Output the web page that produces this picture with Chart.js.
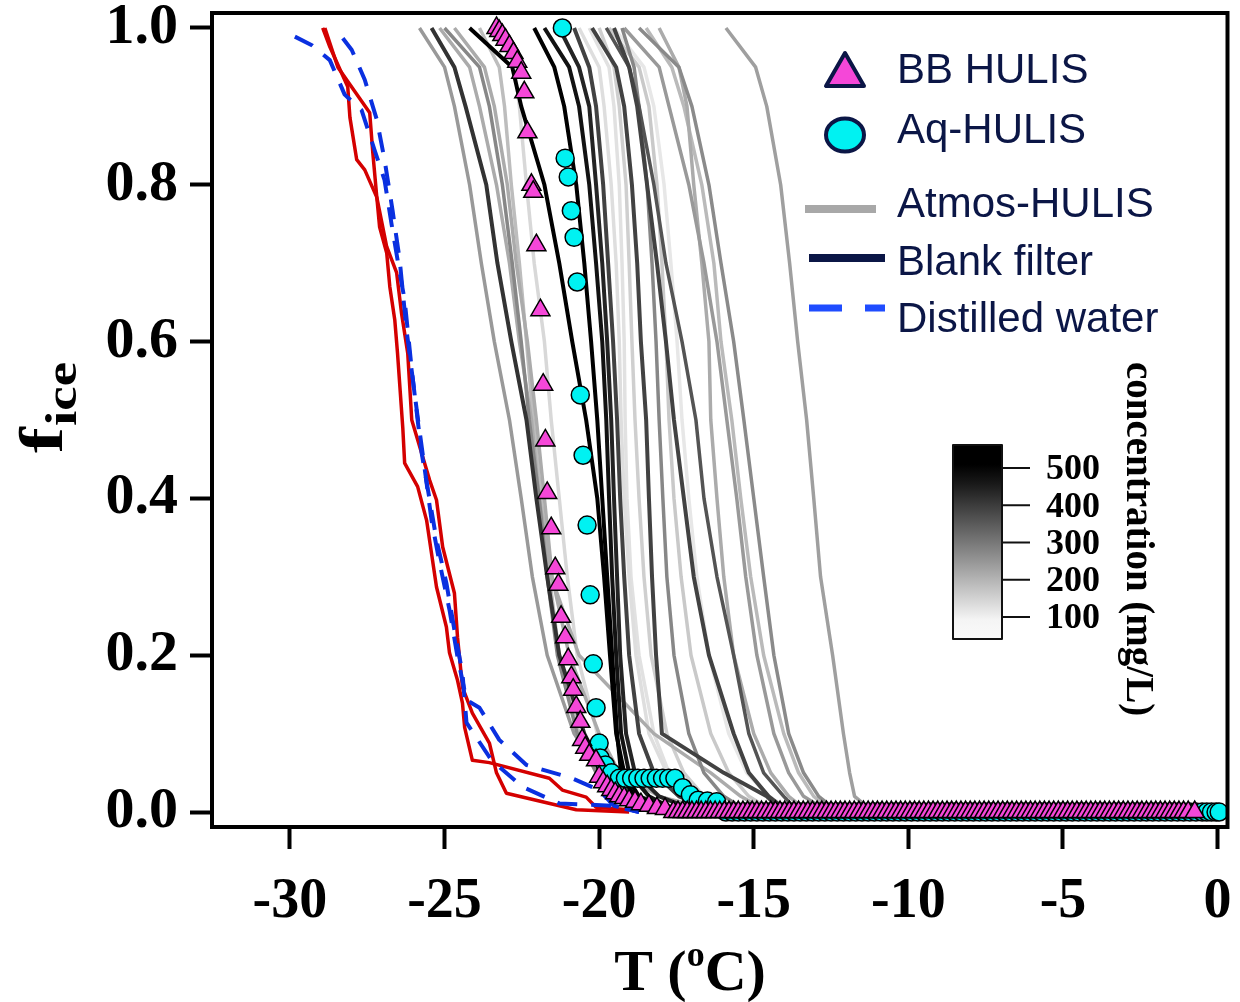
<!DOCTYPE html>
<html>
<head>
<meta charset="utf-8">
<title>fice vs T</title>
<script src="https://cdn.jsdelivr.net/npm/chart.js@4.4.1/dist/chart.umd.min.js"></script>
<style>
  html, body { margin: 0; padding: 0; background: #fff; }
  canvas { display: block; }
</style>
</head>
<body>
<canvas id="fice" width="1240" height="1002"></canvas>
<script>
// axis ticks
var xTicks = [-30, -25, -20, -15, -10, -5, 0];
var yTicks = [0, 0.2, 0.4, 0.6, 0.8, 1.0];
var concTicks = [100, 200, 300, 400, 500];

// frozen fraction levels shared by every Atmos-HULIS / blank run
var fLevels = [1.0, 0.95, 0.9, 0.8, 0.7, 0.6, 0.5, 0.4, 0.3, 0.2, 0.1, 0.05, 0.02, 0];

// temperature (C) of each run at the fLevels above
var atmosRuns = [
    [-25.81, -25.0, -24.68, -24.19, -23.81, -23.39, -22.90, -22.52, -22.16, -21.68, -20.81, -20.0, -18.71, -17.10],
    [-25.42, -24.68, -24.32, -23.65, -23.29, -22.84, -22.35, -22.03, -21.68, -21.29, -20.48, -19.84, -18.71, -17.42],
    [-25.16, -24.19, -23.87, -23.32, -22.90, -22.58, -22.19, -21.94, -21.55, -20.65, -18.23, -16.39, -15.42, -14.52],
    [-24.68, -23.71, -23.39, -22.97, -22.68, -22.32, -22.03, -21.77, -21.52, -20.97, -20.0, -19.35, -18.06, -16.13],
    [-23.87, -23.23, -23.06, -22.84, -22.58, -22.35, -22.13, -21.87, -21.61, -21.29, -20.65, -20.06, -19.19, -18.06],
    [-23.23, -22.74, -22.58, -22.35, -22.10, -21.77, -21.55, -21.29, -21.03, -20.71, -20.06, -19.52, -18.71, -17.42],
    [-25.0, -23.87, -23.55, -23.13, -22.81, -22.52, -22.26, -21.94, -21.68, -21.35, -20.71, -20.10, -19.29, -18.39],
    [-24.19, -22.81, -22.52, -21.77, -21.29, -20.87, -20.42, -20.06, -19.84, -19.65, -19.45, -19.19, -18.71, -17.74],
    [-22.10, -21.45, -21.13, -20.74, -20.48, -20.26, -20.06, -19.90, -19.74, -19.58, -19.42, -19.29, -18.87, -18.06],
    [-21.77, -20.97, -20.65, -20.32, -20.10, -19.90, -19.77, -19.68, -19.58, -19.45, -19.29, -19.03, -18.39, -17.42],
    [-21.29, -20.65, -20.32, -20.10, -19.90, -19.74, -19.61, -19.52, -19.42, -19.32, -19.13, -18.84, -18.06, -16.77],
    [-20.81, -20.32, -20.10, -19.87, -19.71, -19.55, -19.42, -19.32, -19.19, -19.03, -18.71, -18.23, -17.42, -16.13],
    [-20.23, -19.45, -19.19, -18.94, -18.77, -18.65, -18.48, -18.39, -18.29, -18.16, -17.97, -15.97, -14.58, -14.03],
    [-19.77, -19.03, -18.71, -18.23, -17.84, -17.32, -16.87, -16.61, -16.19, -15.65, -15.16, -14.68, -14.03, -13.55],
    [-19.52, -19.03, -18.77, -18.45, -18.13, -17.84, -17.58, -17.26, -16.94, -16.45, -15.65, -15.16, -14.52, -13.87],
    [-20.32, -19.68, -19.52, -19.35, -19.26, -19.19, -19.16, -19.10, -18.97, -18.71, -18.23, -17.74, -17.10, -16.13],
    [-20.0, -19.52, -19.35, -19.13, -19.03, -18.94, -18.84, -18.71, -18.55, -18.32, -17.81, -17.26, -16.61, -15.81],
    [-19.26, -18.87, -18.71, -18.45, -18.29, -18.16, -18.06, -17.94, -17.81, -17.58, -17.10, -16.61, -15.97, -15.16],
    [-19.68, -18.71, -18.39, -18.13, -17.97, -17.84, -17.74, -17.58, -17.35, -17.03, -16.39, -15.81, -15.16, -14.35],
    [-18.48, -17.65, -17.26, -16.68, -16.29, -16.06, -15.71, -15.42, -15.10, -14.68, -14.03, -13.55, -13.06, -12.42],
    [-19.19, -18.06, -17.74, -17.10, -16.61, -16.19, -15.87, -15.55, -15.26, -14.90, -14.35, -13.87, -13.39, -12.58],
    [-18.06, -17.42, -17.16, -16.94, -16.68, -16.45, -16.39, -16.19, -15.97, -15.65, -15.0, -14.45, -13.87, -13.23],
    [-20.65, -20.0, -19.84, -19.61, -19.45, -19.35, -19.29, -19.19, -19.03, -18.81, -18.39, -17.81, -17.10, -16.45],
    [-19.52, -18.55, -18.23, -17.90, -17.68, -17.48, -17.32, -17.10, -16.84, -16.45, -15.81, -15.23, -14.52, -13.71],
    [-18.71, -17.42, -17.0, -16.45, -16.06, -15.65, -15.32, -15.0, -14.68, -14.35, -13.87, -13.39, -12.90, -12.26],
    [-15.90, -14.94, -14.58, -14.13, -13.84, -13.58, -13.29, -13.06, -12.84, -12.45, -12.10, -11.90, -11.74, -11.13]
];
// concentration (mg/L) of each run, sets its grey shade
var atmosConc = [245, 415, 215, 215, 185, 140, 275, 500, 500, 470, 440, 390, 390, 360, 390,
                 125, 155, 275, 165, 190, 245, 215, 130, 115, 270, 235];

// pure water reference runs [T, fice]
var redA = [[-28.94, 1.0], [-28.71, 0.976], [-28.13, 0.925], [-28.06, 0.886], [-27.84, 0.832], [-27.58, 0.819],
            [-27.19, 0.784], [-27.10, 0.746], [-26.87, 0.713], [-26.77, 0.670], [-26.61, 0.628], [-26.52, 0.585],
            [-26.35, 0.49], [-26.29, 0.445], [-25.87, 0.415], [-25.58, 0.372], [-25.26, 0.287], [-24.94, 0.236],
            [-24.84, 0.203], [-24.58, 0.168], [-24.42, 0.139], [-24.35, 0.108], [-24.10, 0.066], [-23.55, 0.063],
            [-21.61, 0.043], [-21.19, 0.028], [-20.42, 0.019], [-20.10, 0.006], [-19.03, 0.003]];
var redB = [[-28.87, 1.0], [-28.45, 0.950], [-27.42, 0.892], [-27.32, 0.841], [-27.19, 0.784], [-26.87, 0.721],
            [-26.55, 0.688], [-26.39, 0.636], [-26.19, 0.585], [-26.06, 0.50], [-25.48, 0.423], [-25.26, 0.398],
            [-25.06, 0.338], [-24.68, 0.279], [-24.58, 0.223], [-24.42, 0.159], [-24.10, 0.126], [-23.55, 0.088],
            [-23.32, 0.050], [-23.00, 0.024], [-20.74, 0.003], [-19.03, 0.0]];

// distilled water runs
var waterA = [[-29.84, 0.989], [-29.29, 0.978], [-28.71, 0.959], [-28.23, 0.915], [-27.68, 0.895], [-27.26, 0.844],
              [-26.94, 0.806], [-26.71, 0.749], [-26.45, 0.688], [-26.29, 0.653], [-26.06, 0.564], [-25.87, 0.50],
              [-25.74, 0.458], [-25.48, 0.398], [-25.26, 0.347], [-24.94, 0.292], [-24.68, 0.232], [-24.42, 0.177],
              [-24.29, 0.114], [-23.48, 0.066], [-22.48, 0.032], [-21.29, 0.011], [-19.58, 0.008], [-18.71, 0]];
var waterB = [[-28.29, 0.987], [-28.0, 0.972], [-27.58, 0.934], [-27.19, 0.883], [-26.94, 0.832], [-26.68, 0.767],
              [-26.45, 0.704], [-26.23, 0.615], [-25.90, 0.513], [-25.65, 0.440], [-25.42, 0.372], [-25.16, 0.318],
              [-24.84, 0.258], [-24.58, 0.198], [-24.29, 0.143], [-23.87, 0.133], [-23.23, 0.092], [-22.35, 0.060],
              [-20.87, 0.043], [-20.0, 0.028], [-19.52, 0.008], [-18.71, 0]];

// BB HULIS droplets
var bbHulis = [[-23.32, 1.0], [-23.23, 0.996], [-23.13, 0.991], [-23.03, 0.985], [-22.90, 0.977], [-22.77, 0.968],
               [-22.65, 0.957], [-22.52, 0.943], [-22.42, 0.918], [-22.32, 0.867], [-22.19, 0.800], [-22.13, 0.791],
               [-22.03, 0.723], [-21.90, 0.640], [-21.81, 0.545], [-21.74, 0.474], [-21.68, 0.407], [-21.55, 0.362],
               [-21.42, 0.311], [-21.32, 0.290], [-21.23, 0.249], [-21.10, 0.223], [-21.0, 0.195], [-20.90, 0.172],
               [-20.84, 0.156], [-20.74, 0.134], [-20.61, 0.115], [-20.55, 0.092], [-20.45, 0.082], [-20.32, 0.073],
               [-20.10, 0.066], [-20.0, 0.045], [-19.87, 0.038], [-19.74, 0.033], [-19.61, 0.028], [-19.48, 0.024],
               [-19.35, 0.020], [-19.19, 0.018], [-19.03, 0.015], [-18.84, 0.013], [-18.65, 0.010], [-18.39, 0.008],
               [-18.13, 0.005], [-17.87, 0.004]];
// BB HULIS temperatures still unfrozen (fice = 0)
var bbZero = [-17.6, -17.45, -17.3, -17.15, -17.0, -16.85, -16.7, -16.55, -16.4, -16.25, -16.1, -15.95, -15.8,
              -15.65, -15.5, -15.35, -15.2, -15.05, -14.9, -14.75, -14.6, -14.45, -14.3, -14.15, -14.0, -13.85,
              -13.7, -13.55, -13.4, -13.25, -13.1, -12.95, -12.8, -12.65, -12.5, -12.35, -12.2, -12.05, -11.9,
              -11.75, -11.6, -11.45, -11.3, -11.15, -11.0, -10.85, -10.7, -10.55, -10.4, -10.25, -10.1, -9.95,
              -9.8, -9.65, -9.5, -9.35, -9.2, -9.05, -8.9, -8.75, -8.6, -8.45, -8.3, -8.15, -8.0, -7.85, -7.7,
              -7.55, -7.4, -7.25, -7.1, -6.95, -6.8, -6.65, -6.5, -6.35, -6.2, -6.05, -5.9, -5.75, -5.6, -5.45,
              -5.3, -5.15, -5.0, -4.85, -4.7, -4.55, -4.4, -4.25, -4.1, -3.95, -3.8, -3.65, -3.5, -3.35, -3.2,
              -3.05, -2.9, -2.75, -2.6, -2.45, -2.3, -2.15, -2.0, -1.85, -1.7, -1.55, -1.4, -1.25, -1.1, -0.95,
              -0.74];

// Aq-HULIS droplets
var aqHulis = [[-21.19, 1.0], [-21.10, 0.834], [-21.0, 0.81], [-20.90, 0.767], [-20.81, 0.733], [-20.71, 0.676],
               [-20.61, 0.532], [-20.52, 0.455], [-20.39, 0.366], [-20.29, 0.277], [-20.19, 0.189], [-20.10, 0.133],
               [-20.0, 0.088], [-19.97, 0.069], [-19.8, 0.06], [-19.6, 0.05], [-19.35, 0.043], [-19.15, 0.043],
               [-18.95, 0.043], [-18.75, 0.043], [-18.55, 0.043], [-18.35, 0.043], [-18.15, 0.043], [-17.95, 0.043],
               [-17.75, 0.043], [-17.55, 0.043], [-17.3, 0.031], [-17.05, 0.022], [-16.8, 0.015], [-16.5, 0.014],
               [-16.2, 0.013]];
var aqZero = [-15.9, -15.7, -15.5, -15.3, -15.1, -14.9, -14.7, -14.5, -14.3, -14.1, -13.9, -13.7, -13.5, -13.3,
              -13.1, -12.9, -12.7, -12.5, -12.3, -12.1, -11.9, -11.7, -11.5, -11.3, -11.1, -10.9, -10.7, -10.5,
              -10.3, -10.1, -9.9, -9.7, -9.5, -9.3, -9.1, -8.9, -8.7, -8.5, -8.3, -8.1, -7.9, -7.7, -7.5, -7.3,
              -7.1, -6.9, -6.7, -6.5, -6.3, -6.1, -5.9, -5.7, -5.5, -5.3, -5.1, -4.9, -4.7, -4.5, -4.3, -4.1,
              -3.9, -3.7, -3.5, -3.3, -3.1, -2.9, -2.7, -2.5, -2.3, -2.1, -1.9, -1.7, -1.5, -1.3, -1.1, -0.9,
              -0.7, -0.5, -0.35, -0.2, -0.05, 0.05];

var NAVY = "#0b1646";
var MAGENTA = "#f547d8";
var CYAN = "#00f2f2";

// grey shade for a concentration, same mapping as the colour bar
function concGray(c) {
    var g = Math.round(240 * (500 - c) / 400);
    g = Math.max(0, Math.min(250, g));
    return "rgb(" + g + "," + g + "," + g + ")";
}

function toPoints(pairs) {
    return pairs.map(function (p) { return {x: p[0], y: p[1]}; });
}

function zeroPoints(ts) {
    return ts.map(function (t) { return {x: t, y: 0}; });
}

function lineSet(data, color, width, dash) {
    return {
        data: data,
        showLine: true,
        borderColor: color,
        borderWidth: width,
        borderDash: dash || [],
        pointRadius: 0,
        tension: 0,
        fill: false
    };
}

function buildDatasets() {
    var sets = [];
    // markers first so they sit on top
    sets.push({
        data: toPoints(bbHulis).concat(zeroPoints(bbZero)),
        showLine: false,
        pointStyle: "triangle",
        pointRadius: 11,
        pointBackgroundColor: MAGENTA,
        pointBorderColor: "#000",
        pointBorderWidth: 1.5
    });
    sets.push({
        data: toPoints(aqHulis).concat(zeroPoints(aqZero)),
        showLine: false,
        pointStyle: "circle",
        pointRadius: 9,
        pointBackgroundColor: CYAN,
        pointBorderColor: "#000",
        pointBorderWidth: 1.5
    });
    sets.push(lineSet(toPoints(waterA), "#0a30e0", 4, [20, 14]));
    sets.push(lineSet(toPoints(waterB), "#0a30e0", 4, [20, 14]));
    sets.push(lineSet(toPoints(redA), "#d40000", 3.5));
    sets.push(lineSet(toPoints(redB), "#d40000", 3.5));

    // darker (more concentrated) runs drawn above the pale ones
    var idx = atmosRuns.map(function (r, i) { return i; });
    idx.sort(function (a, b) { return atmosConc[b] - atmosConc[a]; });
    idx.forEach(function (i) {
        var pts = atmosRuns[i].map(function (t, k) { return {x: t, y: fLevels[k]}; });
        var w = atmosConc[i] >= 380 ? 4 : 3.5;
        sets.push(lineSet(pts, concGray(atmosConc[i]), w));
    });
    return sets;
}

// frame, axis titles, legend and colour bar
var decor = {
    id: "decor",
    afterDraw: function (chart) {
        var ctx = chart.ctx;
        var a = chart.chartArea;
        ctx.save();

        // box around the plot
        ctx.strokeStyle = "#000";
        ctx.lineWidth = 4;
        ctx.strokeRect(a.left, a.top, a.right - a.left, a.bottom - a.top);

        // x title: T (oC)
        ctx.fillStyle = "#000";
        ctx.textBaseline = "alphabetic";
        var big = 'bold 58px "Liberation Serif"';
        var sup = 'bold 36px "Liberation Serif"';
        ctx.font = big;
        var w1 = ctx.measureText("T (").width;
        var w3 = ctx.measureText("C)").width;
        ctx.font = sup;
        var w2 = ctx.measureText("o").width;
        var x0 = 690 - (w1 + w2 + w3) / 2;
        ctx.font = big;
        ctx.fillText("T (", x0, 990);
        ctx.font = sup;
        ctx.fillText("o", x0 + w1, 966);
        ctx.font = big;
        ctx.fillText("C)", x0 + w1 + w2, 990);

        // y title: f_ice, a little stretched along its length
        ctx.save();
        ctx.translate(62, 453);
        ctx.rotate(-Math.PI / 2);
        ctx.scale(1.25, 1);
        ctx.font = 'bold 62px "Liberation Serif"';
        ctx.fillText("f", 0, 0);
        var fw = ctx.measureText("f").width;
        ctx.font = 'bold 44px "Liberation Serif"';
        ctx.fillText("ice", fw + 1, 14);
        ctx.restore();

        // legend
        ctx.lineJoin = "round";
        ctx.beginPath();
        ctx.moveTo(845, 53);
        ctx.lineTo(826, 86);
        ctx.lineTo(864, 86);
        ctx.closePath();
        ctx.fillStyle = MAGENTA;
        ctx.fill();
        ctx.strokeStyle = NAVY;
        ctx.lineWidth = 4;
        ctx.stroke();

        ctx.beginPath();
        ctx.ellipse(845, 135, 19, 16.5, 0, 0, Math.PI * 2);
        ctx.fillStyle = CYAN;
        ctx.fill();
        ctx.stroke();

        ctx.lineCap = "butt";
        ctx.lineWidth = 8;
        ctx.strokeStyle = "#a8a8a8";
        ctx.beginPath();
        ctx.moveTo(805, 209);
        ctx.lineTo(876, 209);
        ctx.stroke();

        ctx.strokeStyle = NAVY;
        ctx.beginPath();
        ctx.moveTo(809, 258);
        ctx.lineTo(885, 258);
        ctx.stroke();

        ctx.strokeStyle = "#1f4cff";
        ctx.lineWidth = 7;
        ctx.setLineDash([33, 23]);
        ctx.beginPath();
        ctx.moveTo(809, 308);
        ctx.lineTo(885, 308);
        ctx.stroke();
        ctx.setLineDash([]);

        ctx.fillStyle = NAVY;
        ctx.font = '42px "Liberation Sans"';
        ctx.fillText("BB HULIS", 897, 83);
        ctx.fillText("Aq-HULIS", 897, 143);
        ctx.fillText("Atmos-HULIS", 897, 217);
        ctx.fillText("Blank filter", 897, 275);
        ctx.fillText("Distilled water", 897, 332);

        // colour bar for concentration
        var cbTop = 445, cbBot = 639, cbL = 953, cbR = 1002;
        var yOf = function (c) { return 468 + (500 - c) * 0.3725; };
        var grad = ctx.createLinearGradient(0, cbTop, 0, cbBot);
        for (var k = 0; k <= 10; k++) {
            var yy = cbTop + k * (cbBot - cbTop) / 10;
            grad.addColorStop(k / 10, concGray(500 - (yy - 468) / 0.3725));
        }
        ctx.fillStyle = grad;
        ctx.fillRect(cbL, cbTop, cbR - cbL, cbBot - cbTop);
        ctx.strokeStyle = "#111";
        ctx.lineWidth = 2;
        ctx.strokeRect(cbL, cbTop, cbR - cbL, cbBot - cbTop);

        ctx.fillStyle = "#000";
        ctx.font = 'bold 36px "Liberation Serif"';
        ctx.textBaseline = "middle";
        concTicks.forEach(function (c) {
            var y = yOf(c);
            ctx.beginPath();
            ctx.moveTo(cbR, y);
            ctx.lineTo(1030, y);
            ctx.stroke();
            ctx.fillText(String(c), 1046, y + 2);
        });

        ctx.save();
        ctx.translate(1127, 362);
        ctx.rotate(Math.PI / 2);
        ctx.textBaseline = "alphabetic";
        ctx.font = 'bold 39px "Liberation Serif"';
        ctx.fillText("concentration (mg/L)", 0, 0);
        ctx.restore();

        ctx.restore();
    }
};

var tickFontX = {family: "Liberation Serif", weight: "bold", size: 56};
var tickFontY = {family: "Liberation Serif", weight: "bold", size: 58};

new Chart(document.getElementById("fice").getContext("2d"), {
    type: "scatter",
    data: {datasets: buildDatasets()},
    plugins: [decor],
    options: {
        responsive: false,
        animation: false,
        layout: {padding: {top: 13, right: 10, left: 0, bottom: 0}},
        plugins: {legend: {display: false}, tooltip: {enabled: false}},
        elements: {line: {borderJoinStyle: "round"}},
        scales: {
            x: {
                type: "linear",
                min: -32.52,
                max: 0.32,
                border: {display: false},
                grid: {drawOnChartArea: false, drawTicks: true, tickLength: 22, tickWidth: 4, tickColor: "#000"},
                ticks: {
                    color: "#000",
                    font: tickFontX,
                    padding: 20,
                    maxRotation: 0,
                    callback: function (v) { return String(v); }
                },
                afterBuildTicks: function (s) {
                    s.ticks = xTicks.map(function (v) { return {value: v}; });
                },
                afterFit: function (s) {
                    s.height = 175;
                    s.paddingLeft = 0;
                    s.paddingRight = 0;
                }
            },
            y: {
                type: "linear",
                min: -0.0191,
                max: 1.0191,
                border: {display: false},
                grid: {drawOnChartArea: false, drawTicks: true, tickLength: 22, tickWidth: 4, tickColor: "#000"},
                ticks: {
                    color: "#000",
                    font: tickFontY,
                    padding: 12,
                    callback: function (v) { return v.toFixed(1); }
                },
                afterBuildTicks: function (s) {
                    s.ticks = yTicks.map(function (v) { return {value: v}; });
                },
                afterFit: function (s) {
                    s.width = 212;
                    s.paddingTop = 0;
                    s.paddingBottom = 0;
                }
            }
        }
    }
});
</script>
</body>
</html>
